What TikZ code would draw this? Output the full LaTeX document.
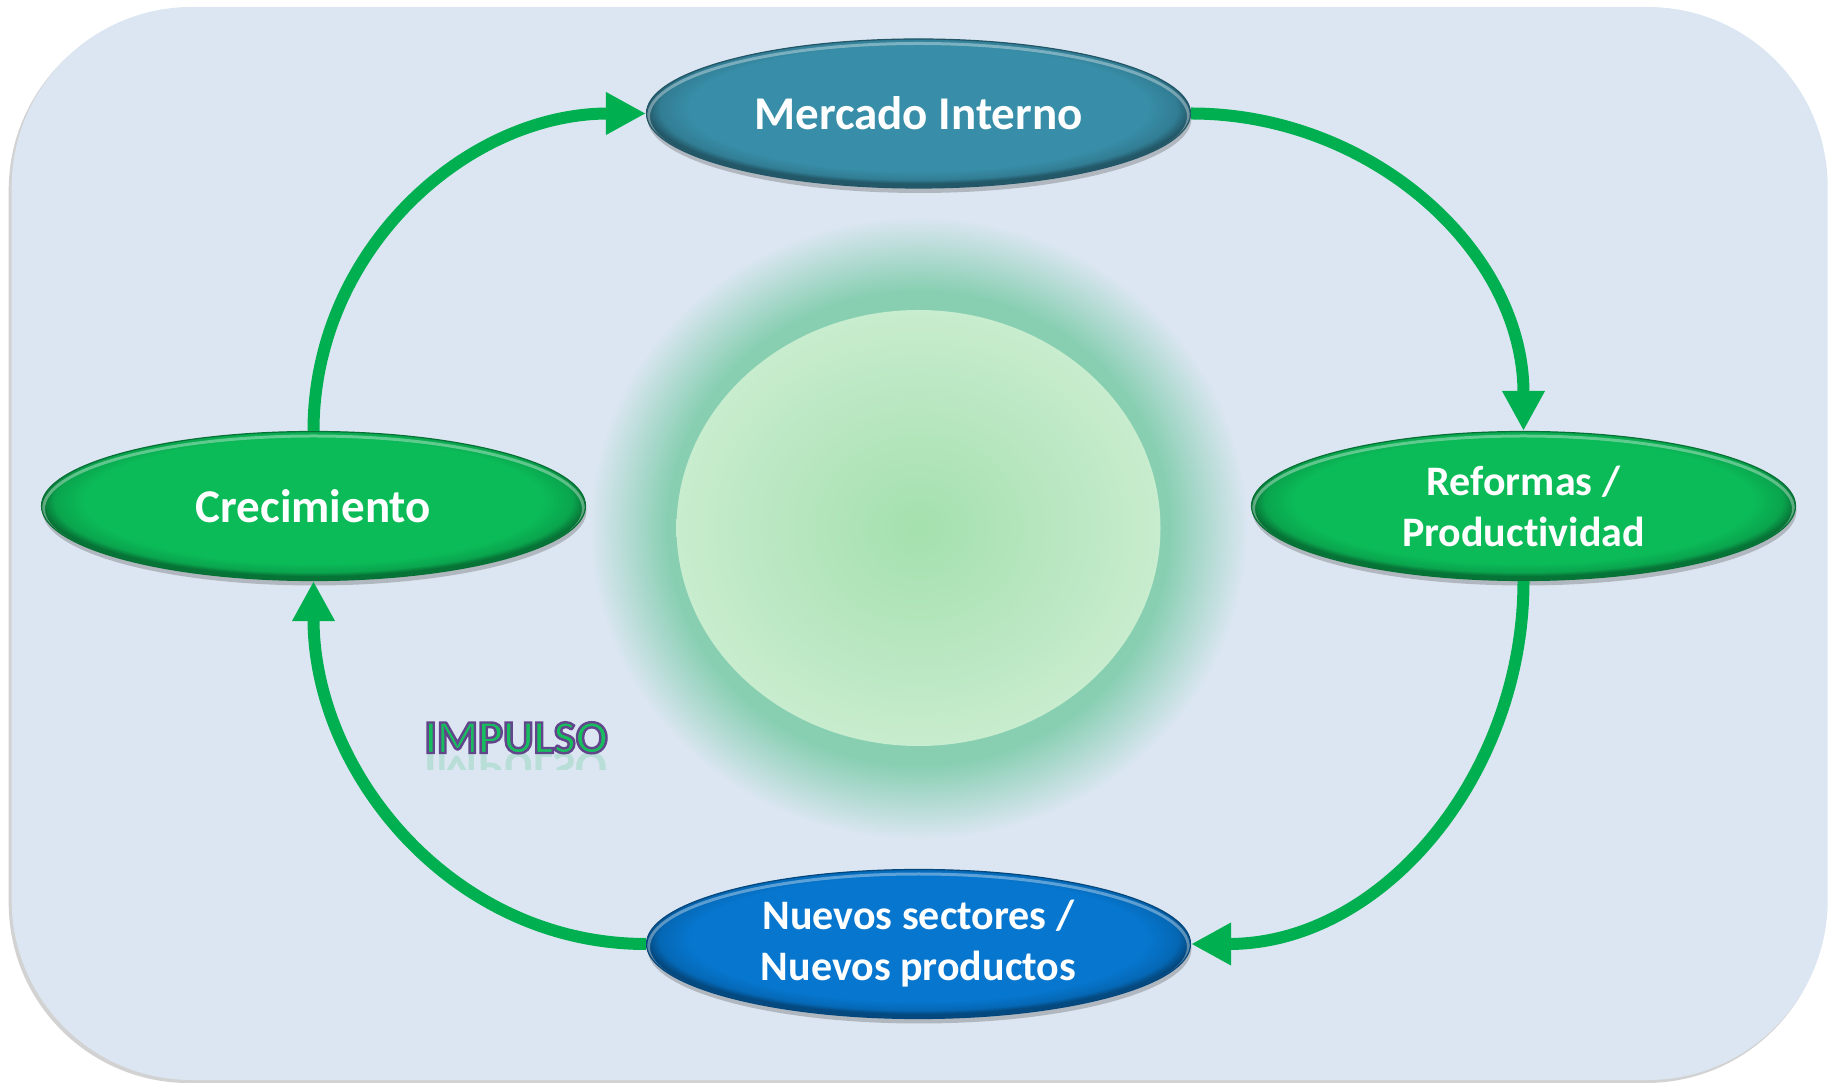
\documentclass[tikz,border=0pt]{standalone}
\usepackage{fontspec}
\setmainfont{Carlito}[Ligatures=NoCommon]
\usetikzlibrary{shapes,positioning,calc,arrows.meta,shadows}

\definecolor{bgc}{HTML}{DCE6F2}
\definecolor{mercc}{HTML}{388EA8}
\definecolor{verdec}{HTML}{0BBB58}
\definecolor{nuevc}{HTML}{0676CE}
\definecolor{arrowc}{HTML}{00B050}
\definecolor{glowc}{HTML}{88CFB2}
\definecolor{corein}{HTML}{A4E0AE}
\definecolor{coreout}{HTML}{C8ECCE}
\definecolor{impc}{HTML}{16BE5E}
\definecolor{impline}{HTML}{64468C}

% path edge sits at 25bp
\pgfdeclareradialshading{glowshade}{\pgfpointorigin}{color(0bp)=(glowc); color(19bp)=(glowc); color(22bp)=(glowc!50!bgc); color(25bp)=(bgc); color(50bp)=(bgc)}
\pgfdeclareradialshading{coreshade}{\pgfpointorigin}{color(0bp)=(corein); color(25bp)=(coreout); color(50bp)=(coreout)}
\pgfdeclareradialshading[bubc]{bubrim}{\pgfpoint{0bp}{3bp}}{color(0bp)=(bubc); color(21bp)=(bubc); color(23.8bp)=(bubc!88!black); color(25bp)=(bubc!62!black); color(50bp)=(bubc!62!black)}

% outlined text (fill + stroke)
\newcommand\outlinetext[1]{\special{pdf:literal direct 2 Tr 2.4 w 0.39 0.27 0.55 RG}#1\special{pdf:literal direct 0 Tr}}

\tikzset{
  bubble/.style={ellipse, minimum width=544pt, minimum height=149pt,
    inner sep=0pt, inner ysep=-20pt, align=center, text=white,
    font=\bfseries\fontsize{47}{56}\selectfont,
    draw=#1!60!black, line width=1.2pt,
    /utils/exec={\colorlet{bubc}{#1}}, shade, shading=bubrim,
    drop shadow={shadow xshift=1pt, shadow yshift=-5pt, opacity=0.3, fill=black!70},
    path picture={\draw[white, opacity=0.35, line width=3pt]
      ([yshift=-3pt]path picture bounding box.center) ellipse [x radius=270pt, y radius=73pt];}},
  twoline/.style={font=\bfseries\fontsize{42}{51}\selectfont},
  flow/.style={draw=arrowc, line width=12pt, -{Triangle[length=40pt,width=40pt]}},
  impfont/.style={font=\bfseries\fontsize{47}{50}\selectfont, inner sep=0pt, anchor=base}
}

\begin{document}
\begin{tikzpicture}[x=1pt,y=1pt]
\useasboundingbox (0,0) rectangle (1837,1082);

% background
\fill[black!35, opacity=0.5, rounded corners=180pt] (8.7,-1) rectangle (1826,1072);
\fill[bgc, rounded corners=180pt] (11.7,2) rectangle (1827.7,1075);

\coordinate (cM) at ( 918.5,968.5);
\coordinate (cC) at ( 313.5,576.0);
\coordinate (cR) at (1523.5,576.0);
\coordinate (cN) at ( 918.5,138.0);
\coordinate (cG) at ( 918.5,554.0);

% centre glow
\shade[shading=glowshade] (cG) ellipse [x radius=330, y radius=312];
\shade[shading=coreshade] (cG) ellipse [x radius=242, y radius=218];

\node[bubble=mercc] (merc) at (cM) {Mercado Interno};
\node[bubble=verdec] (crec) at (cC) {Crecimiento};
\node[bubble=verdec, twoline] (refo) at (cR) {Reformas /\\Productividad};
\node[bubble=nuevc, twoline] (nuev) at (cN) {Nuevos sectores /\\Nuevos productos};

\draw[flow] (merc.east) to[out=0,in=90] (refo.north);
\draw[flow] (refo.south) to[out=-90,in=0] (nuev.east);
\draw[flow] (nuev.west) to[out=180,in=-90] (crec.south);
\draw[flow] (crec.north) to[out=90,in=180] (merc.west);

% IMPULSO with reflection
\coordinate (cI) at (516,329);
\begin{scope}
  \clip (400,312) rectangle (640,329);
  \begin{scope}[shift={(cI)}, yscale=-1, transform shape]
    \node[impfont, text=impc, opacity=0.18] (imprefl) at (0,0) {IMPULSO};
  \end{scope}
\end{scope}
\node[impfont, text=impc] (impulso) at (cI) {\outlinetext{IMPULSO}};

\end{tikzpicture}
\end{document}
